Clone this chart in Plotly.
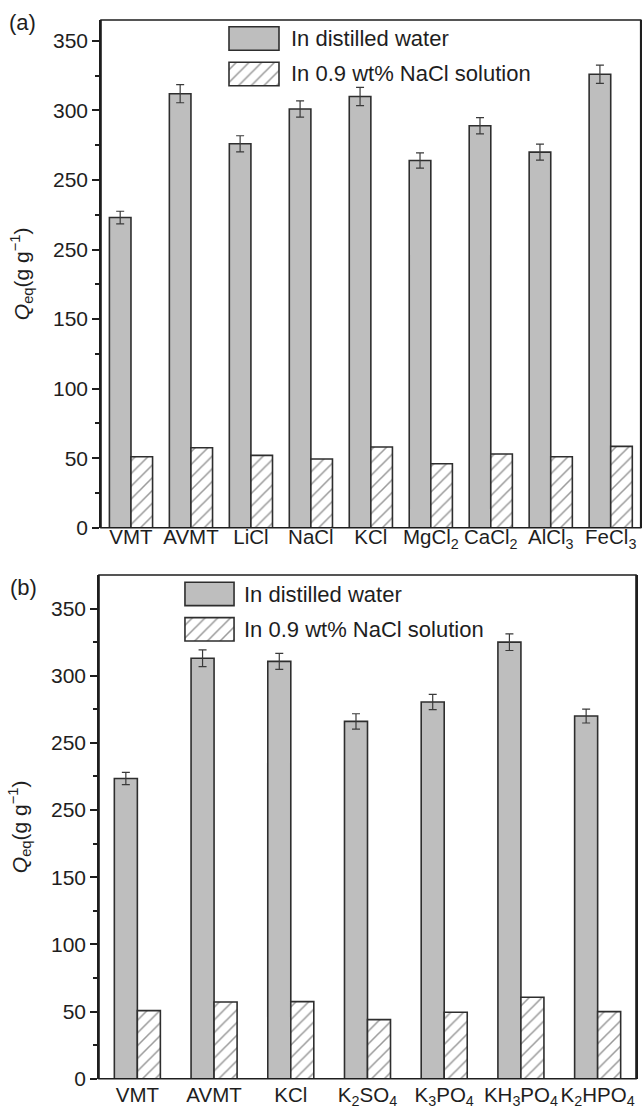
import plotly.graph_objects as go

# ---- data -------------------------------------------------------------
cats_a = ["VMT", "AVMT", "LiCl", "NaCl", "KCl", "MgCl<sub>2</sub>",
          "CaCl<sub>2</sub>", "AlCl<sub>3</sub>", "FeCl<sub>3</sub>"]
water_a = [223, 312, 276, 301, 310, 264, 289, 270, 326]
water_err_a = [4.5, 6.5, 5.8, 5.8, 6.5, 5.5, 5.8, 5.8, 6.5]
saline_a = [51, 57.5, 52, 49.4, 58, 46, 53, 51, 58.5]

cats_b = ["VMT", "AVMT", "KCl", "K<sub>2</sub>SO<sub>4</sub>",
          "K<sub>3</sub>PO<sub>4</sub>", "KH<sub>3</sub>PO<sub>4</sub>",
          "K<sub>2</sub>HPO<sub>4</sub>"]
water_b = [223.5, 313, 310.7, 266, 280.5, 325, 270]
water_err_b = [4.5, 6.2, 6, 5.7, 5.7, 6.2, 5.2]
saline_b = [50.7, 57.1, 57.4, 44, 49.5, 60.6, 49.9]

ytick_vals = [0, 50, 100, 150, 200, 250, 300, 350]
ytick_text = ["0", "50", "100", "150", "250", "250", "300", "350"]

legend_names = ["In distilled water", "In 0.9 wt% NaCl solution"]

# ---- styling ----------------------------------------------------------
W, H = 642, 1110
FONT = "Liberation Sans, Arial, Helvetica, sans-serif"
INK = "#1e1e1e"
GRAY = "#bebebe"
EDGE = "#2e2e2e"
HATCH = dict(shape="/", fgcolor="#333333", bgcolor="white", size=9, solidity=0.17)


def px_x(p):
    return p / W


def px_y(p):
    return 1 - p / H


fig = go.Figure()


def add_panel(idx, cats, water, err, saline, bw):
    xa, ya = f"x{'' if idx == 1 else idx}", f"y{'' if idx == 1 else idx}"
    fig.add_trace(go.Bar(
        x=cats, y=water, width=bw, offset=-bw, xaxis=xa, yaxis=ya,
        marker=dict(color=GRAY, line=dict(color=EDGE, width=1.6)),
        error_y=dict(type="data", array=err, color="#3a3a3a", thickness=1.2, width=4),
        showlegend=False))
    fig.add_trace(go.Bar(
        x=cats, y=saline, width=bw, offset=0, xaxis=xa, yaxis=ya,
        marker=dict(color="white", line=dict(color=EDGE, width=1.6), pattern=HATCH),
        showlegend=False))


add_panel(1, cats_a, water_a, water_err_a, saline_a, 0.36)
add_panel(2, cats_b, water_b, water_err_b, saline_b, 0.30)


# legend swatches: one small hidden axis pair per panel
def add_swatches(idx):
    xa, ya = f"x{idx}", f"y{idx}"
    fig.add_trace(go.Bar(
        y=[1], x=[1], base=0, orientation="h", width=0.66, xaxis=xa, yaxis=ya,
        marker=dict(color=GRAY, line=dict(color=EDGE, width=1.6)), showlegend=False,
        hoverinfo="skip"))
    fig.add_trace(go.Bar(
        y=[0], x=[1], base=0, orientation="h", width=0.66, xaxis=xa, yaxis=ya,
        marker=dict(color="white", line=dict(color=EDGE, width=1.6), pattern=HATCH),
        showlegend=False, hoverinfo="skip"))


add_swatches(3)
add_swatches(4)

axis_common = dict(showgrid=False, zeroline=False, automargin=False,
                   tickfont=dict(family=FONT, size=21, color=INK))
# category axes sit "free" so their labels can be nudged; the frame is drawn separately
xaxis_common = dict(axis_common, showline=False, ticks="", ticklen=0, tickangle=0,
                    anchor="free", tickfont=dict(family=FONT, size=20.5, color=INK))

minor_vals = [v + 25 for v in ytick_vals[:-1]]
yaxis_common = dict(axis_common, showline=True, linecolor=INK, linewidth=1.6, mirror=True,
                    tickmode="array", tickvals=ytick_vals, ticktext=ytick_text,
                    ticks="outside", ticklen=7, tickwidth=1.5, tickcolor=INK,
                    minor=dict(tickvals=minor_vals, ticks="outside", ticklen=4,
                               tickwidth=1.5, tickcolor=INK),
                    title=dict(text="<i>Q</i><sub>eq</sub>(g g<sup>\u22121</sup>)",
                               font=dict(family=FONT, size=21, color=INK),
                               standoff=18))

fig.update_layout(
    width=W, height=H, margin=dict(l=0, r=0, t=0, b=0, autoexpand=False),
    paper_bgcolor="white", plot_bgcolor="white", barmode="overlay",
    font=dict(family=FONT, size=21, color=INK),
    xaxis=dict(xaxis_common, domain=[px_x(101), px_x(640.7)], range=[-0.5, 8.5],
               position=px_y(522.7)),
    yaxis=dict(yaxis_common, domain=[px_y(527.7), px_y(20)], range=[0, 365], anchor="x"),
    xaxis2=dict(xaxis_common, domain=[px_x(99), px_x(636)], range=[-0.5, 6.5],
                position=px_y(1080.2)),
    yaxis2=dict(yaxis_common, domain=[px_y(1078.7), px_y(575)], range=[0, 375], anchor="x2"),
    xaxis3=dict(visible=False, domain=[px_x(227), px_x(281)], range=[-0.04, 1.04], anchor="y3"),
    yaxis3=dict(visible=False, domain=[px_y(91.75), px_y(20.75)], range=[-0.5, 1.5], anchor="x3"),
    xaxis4=dict(visible=False, domain=[px_x(183), px_x(236)], range=[-0.04, 1.04], anchor="y4"),
    yaxis4=dict(visible=False, domain=[px_y(647), px_y(576.3)], range=[-0.5, 1.5], anchor="x4"),
)

# panel frames
for xr, yr in [("x domain", "y domain"), ("x2 domain", "y2 domain")]:
    fig.add_shape(type="rect", xref=xr, yref=yr, x0=0, x1=1, y0=0, y1=1,
                  line=dict(color=INK, width=1.6), layer="above")

text_font = dict(family=FONT, size=22, color=INK)
ann = []
for name, yc in zip(legend_names, [38.5, 74]):
    ann.append(dict(text=name, x=px_x(289), y=px_y(yc), xref="paper", yref="paper",
                    xanchor="left", yanchor="middle", showarrow=False, font=text_font))
for name, yc in zip(legend_names, [594, 629.3]):
    ann.append(dict(text=name, x=px_x(242), y=px_y(yc), xref="paper", yref="paper",
                    xanchor="left", yanchor="middle", showarrow=False, font=text_font))
ann.append(dict(text="(a)", x=px_x(7), y=px_y(22), xref="paper", yref="paper",
                xanchor="left", yanchor="middle", showarrow=False, font=text_font))
ann.append(dict(text="(b)", x=px_x(8), y=px_y(587), xref="paper", yref="paper",
                xanchor="left", yanchor="middle", showarrow=False, font=text_font))
fig.update_layout(annotations=ann)

fig.write_html("out.html")
